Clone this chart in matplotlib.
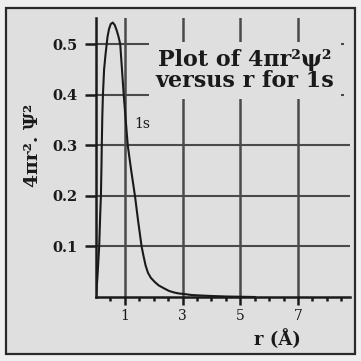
import numpy as np
import matplotlib
matplotlib.use('Agg')
import matplotlib.pyplot as plt
from matplotlib.patches import Rectangle

plt.rcParams['font.family'] = 'DejaVu Serif'

# curve: r in angstrom, 4 pi r^2 psi^2
r_vals = [0.0, 0.05, 0.11, 0.15, 0.17, 0.19, 0.20, 0.22, 0.24, 0.28, 0.33, 0.37,
          0.40, 0.45, 0.51, 0.58, 0.65, 0.72, 0.78, 0.84, 0.90, 0.96, 1.03, 1.10,
          1.22, 1.35, 1.46, 1.58, 1.65, 1.72, 1.80, 1.90, 2.03, 2.17, 2.36, 2.53,
          2.70, 2.87, 3.04, 3.3, 3.6, 4.0, 4.5, 5.5]
p_vals = [0.0, 0.04, 0.10, 0.17, 0.20, 0.26, 0.30, 0.36, 0.40, 0.45, 0.48, 0.50,
          0.515, 0.53, 0.54, 0.543, 0.538, 0.527, 0.515, 0.50, 0.45, 0.40, 0.35, 0.30,
          0.25, 0.20, 0.15, 0.10, 0.080, 0.062, 0.048, 0.038, 0.030, 0.023, 0.017, 0.012,
          0.009, 0.007, 0.006, 0.004, 0.003, 0.002, 0.001, 0.0]

x_major = [1, 3, 5, 7]
x_minor = [0.5, 1.5, 2, 2.5, 3.5, 4, 4.5, 5.5, 6, 6.5, 7.5, 8, 8.5]
y_major = [0.1, 0.2, 0.3, 0.4, 0.5]
y_labels = ['0.1', '0.2', '0.3', '0.4', '0.5']

bg = '#dfdfdf'
grid_c = '#4a4a4a'
ink = '#1a1a1a'

fig = plt.figure(figsize=(3.61, 3.61), dpi=100)
fig.patch.set_facecolor('#efefef')
fig.patches.append(Rectangle((5.5/361, 7.5/361), 349/361, 346/361, transform=fig.transFigure,
                             facecolor=bg, edgecolor='#2a2a2a', linewidth=1.6, zorder=-10))

ax = fig.add_axes([96/361, 1 - 297/361, 254/361, 279/361])
ax.set_facecolor('none')
ax.set_xlim(0, 8.8)
ax.set_ylim(0, 0.552)

for sp in ['top', 'right']:
    ax.spines[sp].set_visible(False)
for sp in ['left', 'bottom']:
    ax.spines[sp].set_linewidth(1.8)
    ax.spines[sp].set_color(ink)

# grid
for xv in x_major:
    ax.axvline(xv, color=grid_c, lw=1.8, zorder=1)
for yv in y_major:
    ax.hlines(yv, 0, 8.8 if yv < 0.35 else 8.6, color=grid_c, lw=1.5, zorder=1)

ax.plot(r_vals, p_vals, color=ink, lw=1.5, zorder=3, solid_joinstyle='round')

ax.set_xticks(x_major)
ax.set_xticklabels([str(v) for v in x_major], fontsize=10)
ax.set_xticks(x_minor, minor=True)
ax.set_yticks(y_major)
ax.set_yticklabels(y_labels, fontsize=10.5, fontweight='bold')
ax.tick_params(axis='x', which='major', length=6, width=1.8, direction='out', pad=3, colors=ink)
ax.tick_params(axis='x', which='minor', length=3, width=1.8, direction='out', colors=ink)
ax.tick_params(axis='y', which='major', length=8, width=1.8, direction='out', pad=5, colors=ink)

ax.text(1.33, 0.342, '1s', fontsize=10, color=ink, va='center', ha='left', zorder=4)

ax.text(5.17, 0.448, 'Plot of 4πr²ψ²\nversus r for 1s', fontsize=16, fontweight='bold',
        ha='center', va='center', linespacing=0.98, color=ink, zorder=5,
        bbox=dict(facecolor=bg, edgecolor='none', pad=5))

fig.text(33.5/361, 1 - 145/361, '4πr². Ψ²', rotation=90, fontsize=13.5, fontweight='bold',
         ha='center', va='center', color=ink)
fig.text(277/361, 1 - 339/361, 'r (Å)', fontsize=13, fontweight='bold',
         ha='center', va='center', color=ink)

fig.savefig('out.png', dpi=100, facecolor=fig.get_facecolor())
